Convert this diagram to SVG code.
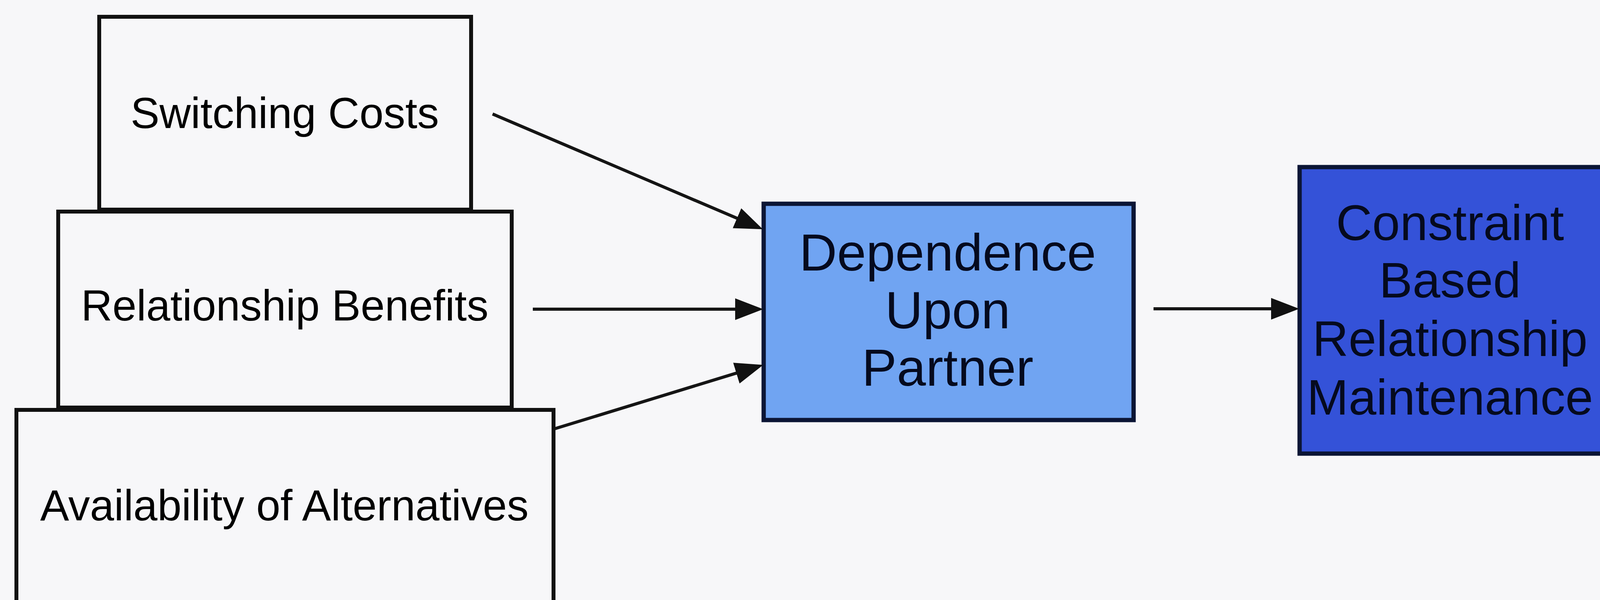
<svg xmlns="http://www.w3.org/2000/svg" width="4246" height="1537" viewBox="0 0 4246 1537">
<style>
.src{fill:#f7f7f9;stroke:#111111;stroke-width:10}
.lbl{font-family:"Liberation Sans",Arial,sans-serif;font-size:111px;fill:#000000;text-anchor:middle}
.big{font-family:"Liberation Sans",Arial,sans-serif;font-size:134px;fill:#050a1e;text-anchor:middle}
.big2{font-family:"Liberation Sans",Arial,sans-serif;font-size:128px;fill:#050a1e;text-anchor:middle}
.conn{stroke:#151515;stroke-width:8;fill:none;marker-end:url(#ah)}
</style>
<defs>
<marker id="ah" markerUnits="userSpaceOnUse" markerWidth="72" markerHeight="56" viewBox="0 0 70 54" refX="38" refY="27" orient="auto">
<path d="M0,0 L70,27 L0,54 z" fill="#111111"/>
</marker>
</defs>
<rect x="0" y="0" width="4246" height="1537" fill="#f7f7f9"/>
<g id="switching-costs">
<rect class="src" x="254" y="43" width="952" height="494"/>
<text class="lbl" x="729" y="328">Switching Costs</text>
</g>
<g id="relationship-benefits">
<rect class="src" x="149" y="542" width="1161" height="502"/>
<text class="lbl" x="729" y="821">Relationship Benefits</text>
</g>
<g id="availability-of-alternatives">
<rect class="src" x="42" y="1050" width="1375" height="560"/>
<text class="lbl" x="728" y="1333">Availability of Alternatives</text>
</g>
<g id="dependence-upon-partner">
<rect x="1955" y="522" width="947" height="554" fill="#70a4f2" stroke="#0b1535" stroke-width="11"/>
<text class="big" x="2426" y="693">Dependence</text>
<text class="big" x="2426" y="841">Upon</text>
<text class="big" x="2426" y="988">Partner</text>
</g>
<g id="constraint-based-relationship-maintenance">
<rect x="3327" y="428" width="980" height="734" fill="#3452d8" stroke="#0b1535" stroke-width="11"/>
<text class="big2" x="3712" y="615">Constraint</text>
<text class="big2" x="3712" y="762">Based</text>
<text class="big2" x="3712" y="912">Relationship</text>
<text class="big2" x="3712" y="1062">Maintenance</text>
</g>
<g id="connectors">
<line class="conn" x1="1261" y1="292" x2="1922.6" y2="574.4"/>
<line class="conn" x1="1364" y1="792" x2="1921" y2="792"/>
<line class="conn" x1="1421" y1="1098" x2="1922.4" y2="944.4"/>
<line class="conn" x1="2953" y1="791" x2="3293" y2="791"/>
</g>
</svg>
